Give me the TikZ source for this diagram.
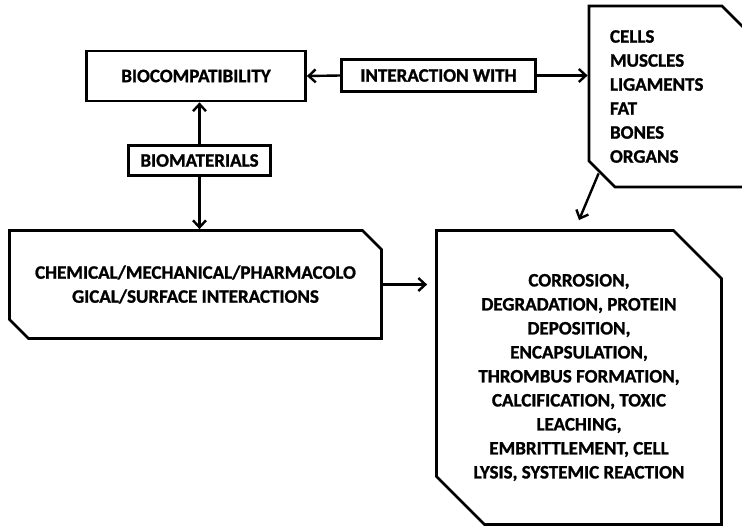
\documentclass[tikz,border=0pt]{standalone}
\usepackage{fontspec}
\setmainfont{Carlito}[BoldFeatures={FakeBold=1.2}]
\usetikzlibrary{arrows.meta,shapes.misc}

\begin{document}
\begin{tikzpicture}[x=1pt,y=-1pt,
plainbox/.style={draw,rectangle,line width=2.8pt,inner sep=0pt,font=\bfseries\fontsize{19}{24}\selectfont},
cutbox/.style={plainbox,chamfered rectangle,chamfered rectangle corners={north east,south west}},
arr/.style={line width=2.4pt,-{Straight Barb[length=7pt,width=13pt,line width=2.4pt]}}]
\useasboundingbox(0,0)rectangle(742,527);
\node[plainbox,minimum width=219,minimum height=50](bioc)at(196,76){BIOCOMPATIBILITY};
\node[plainbox,minimum width=194,minimum height=32](inter)at(438.5,75.5){INTERACTION WITH};
\node[plainbox,minimum width=142,minimum height=30](biomat)at(199.5,160.5){BIOMATERIALS};
\node[cutbox,chamfered rectangle sep=9.5pt,minimum width=372,minimum height=108,align=center](chem)at(195.5,284.5)
{CHEMICAL/MECHANICAL/PHARMACOLO\\GICAL/SURFACE INTERACTIONS};
\node[cutbox,chamfered rectangle sep=24pt,minimum width=285,minimum height=294,align=center](outc)at(579,377.5)
{CORROSION,\\DEGRADATION, PROTEIN\\DEPOSITION,\\ENCAPSULATION,\\THROMBUS FORMATION,\\CALCIFICATION, TOXIC\\LEACHING,\\EMBRITTLEMENT, CELL\\LYSIS, SYSTEMIC REACTION};
\node[cutbox,chamfered rectangle sep=13pt,minimum width=159,minimum height=181,text width=117pt,align=left](cells)at(668.5,96.5)
{CELLS\\MUSCLES\\LIGAMENTS\\FAT\\BONES\\ORGANS};
\coordinate(cellcorner)at(cells.west|-cells.south);
\draw[arr](inter.west)--(bioc.east);
\draw[arr](inter.east)--(inter.east-|cells.west);
\draw[arr](biomat.north)--(biomat.north|-bioc.south);
\draw[arr](biomat.south)--(biomat.south|-chem.north);
\draw[arr,shorten >=8pt](chem.east)--(chem.east-|outc.west);
\draw[arr]([shift={(11,-15)}]cellcorner)--([yshift=9pt]outc.north);
\end{tikzpicture}
\end{document}
